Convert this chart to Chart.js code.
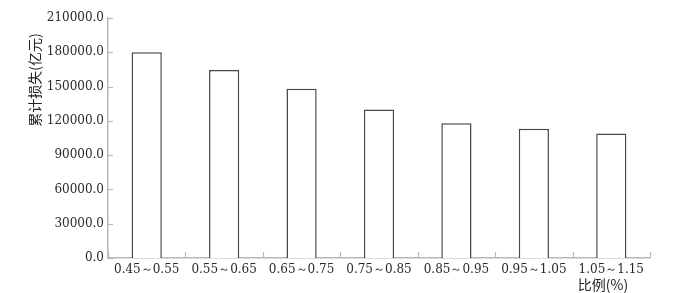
<!DOCTYPE html>
<html>
<head>
<meta charset="utf-8">
<script src="https://cdn.jsdelivr.net/npm/chart.js@4.4.0/dist/chart.umd.min.js"></script>
<style>
    html, body { margin: 0; padding: 0; background: #fff; }
    #wrap { width: 683px; height: 293px; position: relative; }
</style>
</head>
<body>
<div id="wrap"><canvas id="lossChart"></canvas></div>
<script>
(function () {
    'use strict';

    const categories = ['0.45～0.55', '0.55～0.65', '0.65～0.75', '0.75～0.85', '0.85～0.95', '0.95～1.05', '1.05～1.15'];
    const lossValues = [180000, 164500, 148000, 130000, 118000, 113000, 109000];
    const yTicks = [0, 30000, 60000, 90000, 120000, 150000, 180000, 210000];
    const yTitle = '累计损失(亿元)';
    const xTitle = '比例(%)';

    const axisColor = '#b8b8b8';
    const textColor = '#2a2a2a';
    const numFont = '"DejaVu Serif", serif';
    const cjkFont = '"Noto Sans CJK SC", sans-serif';

    // tick marks inside the plot + axis titles
    const decorPlugin = {
        id: 'decor',
        afterDraw(chart) {
            const ctx = chart.ctx;
            const x = chart.scales.x;
            const y = chart.scales.y;
            const area = chart.chartArea;
            ctx.save();
            ctx.strokeStyle = axisColor;
            ctx.lineWidth = 1.2;
            yTicks.forEach(function (v) {
                const py = Math.round(y.getPixelForValue(v)) + 0.5;
                ctx.beginPath();
                ctx.moveTo(area.left, py);
                ctx.lineTo(area.left + 5, py);
                ctx.stroke();
            });
            for (let i = 0; i <= categories.length; i++) {
                let px;
                if (i === 0) px = area.left;
                else if (i === categories.length) px = area.right;
                else px = (x.getPixelForValue(i - 1) + x.getPixelForValue(i)) / 2;
                px = Math.round(px) + 0.5;
                ctx.beginPath();
                ctx.moveTo(px, area.bottom);
                ctx.lineTo(px, area.bottom - 6);
                ctx.stroke();
            }

            ctx.fillStyle = '#222';
            ctx.font = '14px ' + cjkFont;
            ctx.textAlign = 'center';
            ctx.textBaseline = 'middle';
            ctx.save();
            ctx.translate(35, 80);
            ctx.rotate(-Math.PI / 2);
            ctx.fillText(yTitle, 0, 0);
            ctx.restore();
            ctx.fillText(xTitle, 603, 285);
            ctx.restore();
        }
    };

    new Chart(document.getElementById('lossChart'), {
        type: 'bar',
        data: {
            labels: categories,
            datasets: [{
                data: lossValues,
                backgroundColor: '#fff',
                borderColor: '#484848',
                borderWidth: 1.5,
                barPercentage: 0.39,
                categoryPercentage: 1
            }]
        },
        options: {
            responsive: true,
            maintainAspectRatio: false,
            animation: false,
            layout: { padding: { top: 18, right: 33, left: 0, bottom: 0 } },
            plugins: {
                legend: { display: false },
                tooltip: { enabled: false }
            },
            scales: {
                x: {
                    grid: { display: false, drawTicks: false },
                    border: { color: axisColor, width: 1.5 },
                    ticks: {
                        color: textColor,
                        font: { family: numFont, size: 12 },
                        padding: 5,
                        maxRotation: 0,
                        autoSkip: false
                    },
                    afterFit: function (s) { s.height = 35; }
                },
                y: {
                    min: 0,
                    max: 210000,
                    grid: { display: false, drawTicks: false },
                    border: { color: axisColor, width: 1.5 },
                    afterBuildTicks: function (s) {
                        s.ticks = yTicks.map(v => ({ value: v }));
                    },
                    ticks: {
                        color: textColor,
                        font: { family: numFont, size: 12 },
                        padding: 4,
                        callback: v => Number(v).toFixed(1)
                    },
                    afterFit: function (s) { s.width = 108; }
                }
            }
        },
        plugins: [decorPlugin]
    });
})();
</script>
</body>
</html>
